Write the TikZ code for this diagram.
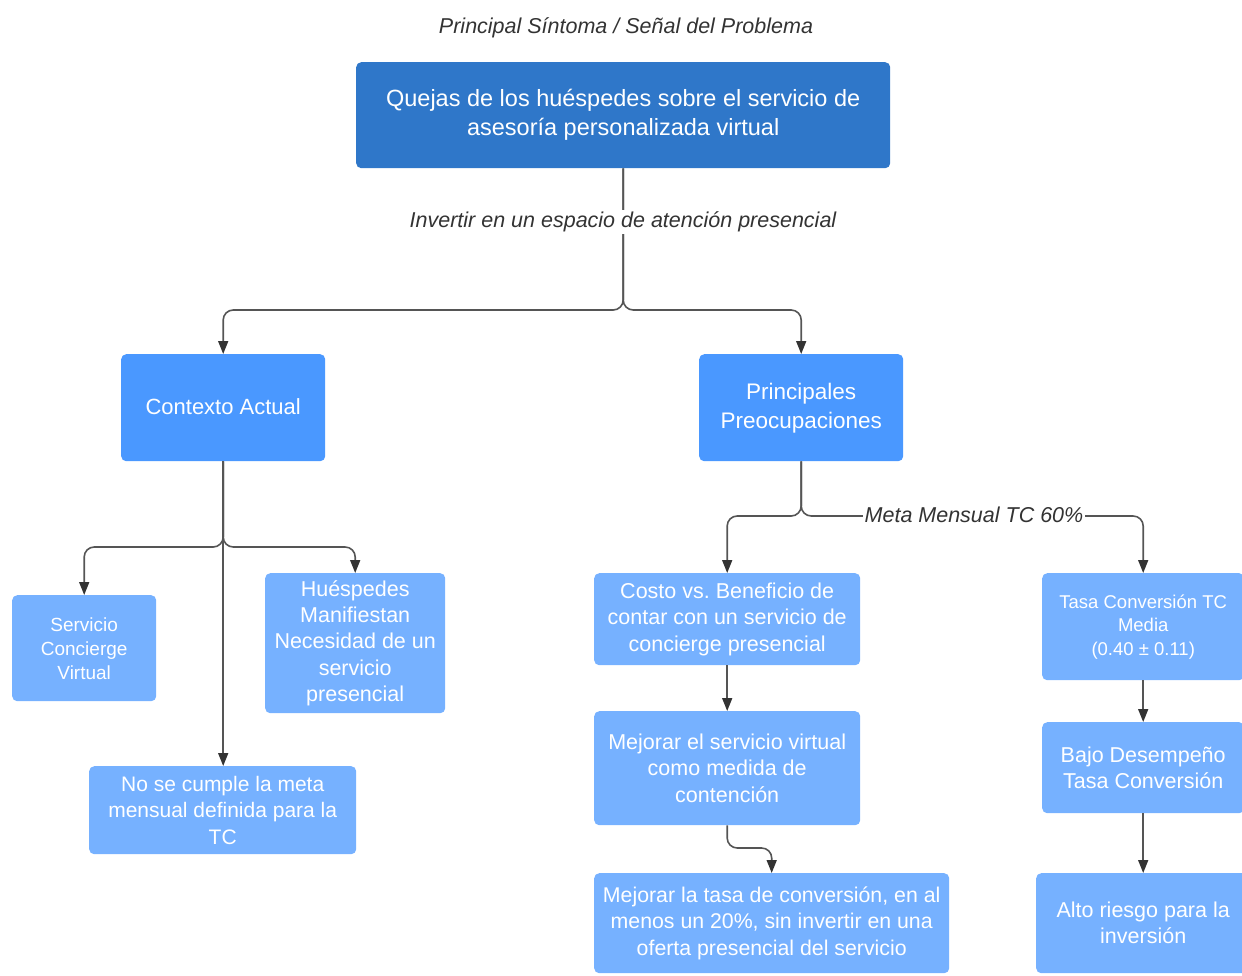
\documentclass[tikz,border=0pt]{standalone}
\usepackage{fontspec}
\setmainfont{Liberation Sans}
\usetikzlibrary{arrows.meta}
\definecolor{topblue}{HTML}{2F77C9}
\definecolor{midblue}{HTML}{4A98FF}
\definecolor{lowblue}{HTML}{76B1FF}
\definecolor{linegray}{HTML}{555555}
\definecolor{tipgray}{HTML}{333333}
\definecolor{labelgray}{HTML}{333333}
\tikzset{
  box/.style={rounded corners=5pt, text=white, align=center, inner sep=0pt, anchor=north west},
  topbox/.style={box, fill=topblue},
  midbox/.style={box, fill=midblue},
  lowbox/.style={box, fill=lowblue},
  conn/.style={draw=linegray, line width=1.6pt, rounded corners=10pt,
    -{Triangle[length=13pt,width=10pt,color=tipgray]}},
  plainconn/.style={draw=linegray, line width=1.6pt, rounded corners=10pt},
  edgelabel/.style={fill=white, inner sep=2pt, text=labelgray, font=\fontsize{21.5}{26}\selectfont\itshape}
}
\newcommand{\fs}[2]{\fontsize{#1}{#2}\selectfont}
\begin{document}
\frenchspacing
\begin{tikzpicture}[x=1pt,y=-1pt]
\useasboundingbox (0,0) rectangle (1242,975);
\clip (0,0) rectangle (1242,975);

% heading
\node[text=labelgray, font=\fs{21.5}{26}\itshape] (title) at (626,28) {Principal Síntoma / Señal del Problema};

% main problem
\node[topbox, minimum width=534pt, minimum height=106pt, font=\fs{23.5}{29}] (top) at (356,62)
  {Quejas de los huéspedes sobre el servicio de\\asesoría personalizada virtual};

% second level
\node[midbox, minimum width=204pt, minimum height=107pt, font=\fs{22}{29}] (ctx) at (121,354) {\raisebox{3pt}{Contexto Actual}};
\node[midbox, minimum width=204pt, minimum height=107pt, font=\fs{22.5}{29}] (pre) at (699,354) {Principales\\Preocupaciones};

% current context branch
\node[lowbox, minimum width=144pt, minimum height=106pt, font=\fs{19}{24}] (srv) at (12,595) {Servicio\\Concierge\\Virtual};
\node[lowbox, minimum width=180pt, minimum height=140pt, font=\fs{21.5}{26.3}] (hue) at (265,573) {Huéspedes\\Manifiestan\\Necesidad de un\\servicio\\presencial};
\node[lowbox, minimum width=267pt, minimum height=88pt, font=\fs{21}{26.5}] (meta) at (89,766) {No se cumple la meta\\mensual definida para la\\TC};

% concerns branch, left column
\node[lowbox, minimum width=266pt, minimum height=92pt, font=\fs{21.5}{26.5}] (cost) at (594,573) {Costo vs. Beneficio de\\contar con un servicio de\\concierge presencial};
\node[lowbox, minimum width=266pt, minimum height=114pt, font=\fs{21.5}{26.5}] (mej) at (594,711) {Mejorar el servicio virtual\\como medida de\\contención};
\node[lowbox, minimum width=355pt, minimum height=100pt, font=\fs{21.3}{26.5}] (tasa) at (594,873) {Mejorar la tasa de conversión, en al\\menos un 20\%, sin invertir en una\\oferta presencial del servicio};

% concerns branch, right column
\node[lowbox, minimum width=202pt, minimum height=107pt, font=\fs{18.5}{23.5}] (tc) at (1042,573) {Tasa Conversión TC\\Media\\(0.40 ± 0.11)};
\node[lowbox, minimum width=202pt, minimum height=91pt, font=\fs{21.5}{26}] (bajo) at (1042,722) {Bajo Desempeño\\Tasa Conversión};
\node[lowbox, minimum width=214pt, minimum height=100pt, font=\fs{21.5}{26}] (alto) at (1036,873) {Alto riesgo para la\\inversión};

% junction points
\coordinate (j1) at (top.south |- 0,310);
\coordinate (j2) at (ctx.south |- 0,547);
\coordinate (j3) at (pre.south |- 0,516);
\coordinate (j4) at (mej.south |- 0,848);

% connectors from the main problem
\draw[conn] (top.south) -- (j1) -| (ctx.north);
\draw[conn] (top.south) -- (j1) -| (pre.north);
\node[edgelabel] (lbl1) at (623,222) {Invertir en un espacio de atención presencial};

% connectors from the current context
\draw[conn] (ctx.south) -- (j2) -| (srv.north);
\draw[conn] (ctx.south) -- (j2) -| (hue.north);
\draw[conn] (ctx.south) -- (meta.north -| ctx.south);

% connectors from the concerns
\draw[conn] (pre.south) -- (j3) -| (cost.north -| mej.north);
\draw[conn] (pre.south) -- (j3) -| (tc.north);
\node[edgelabel] (lbl2) at (974,515) {Meta Mensual TC 60\%};

\draw[conn] (cost.south) -- (mej.north);
\draw[conn] (mej.south) -- (j4) -| (tasa.north);

\draw[conn] (tc.south) -- (bajo.north);
\draw[conn] (bajo.south) -- (alto.north -| bajo.south);
\end{tikzpicture}
\end{document}
